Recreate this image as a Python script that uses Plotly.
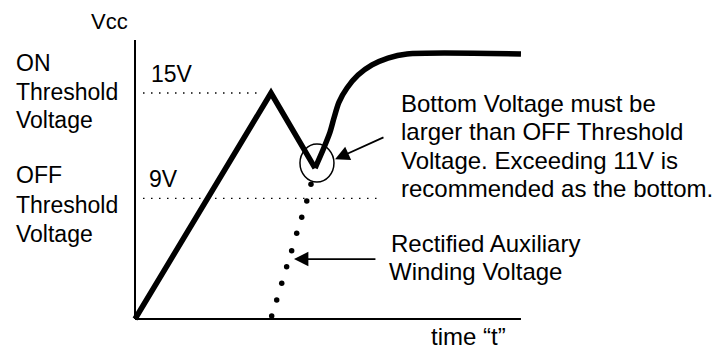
import plotly.graph_objects as go

# ---------------- data (schematic units: time t, voltage level v) ----------------
rise_t = [0.0, 10.0, 13.24]          # start-up ramp, peak, bottom
rise_v = [0.0, 15.0, 10.02]

recover_t = [13.24, 13.82, 14.34, 14.63, 15.0, 15.59, 16.40, 17.43, 18.60, 20.0, 28.38]
recover_v = [10.02, 11.22, 12.41, 13.34, 14.40, 15.33, 16.19, 16.86, 17.32, 17.59, 17.59]

aux_t = [10.05, 10.42, 10.79, 11.15, 11.52, 11.89, 12.26, 12.63, 12.94]
aux_v = [0.20, 1.26, 2.37, 3.47, 4.53, 5.69, 6.75, 7.83, 8.94]

level_names = ["ON", "OFF"]
level_values = [15.0, 8.01]          # drawn heights of the threshold guides
level_ends = [9.34, 17.8]            # where each dotted guide stops
level_labels = ["15V", "9V"]

axis_t_end = 28.38
axis_v_end = 18.52

W, H = 726, 349
PX_T = 13.6       # px per t unit
PX_V = 15.067     # px per v unit
X0, Y0 = 135, 319 # origin pixel

FONT = "Liberation Sans, Arial, sans-serif"

def px(x):
    return x / W

def py(y):
    return 1 - y / H

fig = go.Figure()

# solid Vcc curve
fig.add_trace(go.Scatter(x=rise_t, y=rise_v, mode="lines",
                         line=dict(color="black", width=5.5), hoverinfo="skip"))
fig.add_trace(go.Scatter(x=recover_t, y=recover_v, mode="lines",
                         line=dict(color="black", width=5.5, shape="spline", smoothing=0.8),
                         hoverinfo="skip"))
# rectified auxiliary winding voltage (dots)
fig.add_trace(go.Scatter(x=aux_t, y=aux_v, mode="markers",
                         marker=dict(color="black", size=5.5), hoverinfo="skip"))

shapes = []
# axes
shapes.append(dict(type="line", xref="x", yref="y", x0=0, y0=0, x1=axis_t_end, y1=0,
                   line=dict(color="black", width=2)))
shapes.append(dict(type="line", xref="x", yref="y", x0=0, y0=0, x1=0, y1=axis_v_end,
                   line=dict(color="black", width=2)))
# threshold guides
for lv, le in zip(level_values, level_ends):
    shapes.append(dict(type="line", xref="x", yref="y", x0=0.59, y0=lv, x1=le, y1=lv,
                       line=dict(color="black", width=1.3, dash="1.5px,6.5px")))
# circle around the bottom
shapes.append(dict(type="circle", xref="x", yref="y",
                   x0=13.38 - 1.25, x1=13.38 + 1.25, y0=10.35 - 1.26, y1=10.35 + 1.26,
                   line=dict(color="black", width=1.5)))

annotations = []

def text(s, x, baseline, size=23, anchor="left"):
    annotations.append(dict(text=s, xref="paper", yref="paper",
                            x=px(x), y=py(baseline - 0.34 * size),
                            xanchor=anchor, yanchor="middle", showarrow=False,
                            borderpad=0,
                            font=dict(family=FONT, size=size, color="black")))

text("Vcc", 90, 29, size=22)
for i, line in enumerate(["ON", "Threshold", "Voltage"]):
    text(line, 15, 70.7 + 28.8 * i)
for i, line in enumerate(["OFF", "Threshold", "Voltage"]):
    text(line, 15, 183.3 + 29.2 * i)
text(level_labels[0], 150, 81.7)
text(level_labels[1], 148, 186.7)
for i, line in enumerate(["Bottom Voltage must be", "larger than OFF Threshold",
                          "Voltage. Exceeding 11V is", "recommended as the bottom."]):
    text(line, 400, 111.7 + 28.3 * i, size=24)
text("Rectified Auxiliary", 390, 251.7, size=24)
text("Winding Voltage", 388, 280, size=24)
text("time \u201ct\u201d", 430, 345, size=24)

# arrows
annotations.append(dict(x=14.71, y=10.60, ax=18.38, ay=12.10, xref="x", yref="y",
                        axref="x", ayref="y", text="", showarrow=True,
                        arrowhead=2, arrowsize=1.6, arrowwidth=1.8, arrowcolor="black"))
annotations.append(dict(x=11.69, y=3.98, ax=17.79, ay=3.98, xref="x", yref="y",
                        axref="x", ayref="y", text="", showarrow=True,
                        arrowhead=2, arrowsize=1.6, arrowwidth=1.8, arrowcolor="black"))

fig.update_layout(
    width=W, height=H,
    margin=dict(l=0, r=0, t=0, b=0),
    paper_bgcolor="white", plot_bgcolor="white",
    showlegend=False,
    shapes=shapes, annotations=annotations,
    xaxis=dict(range=[-X0 / PX_T, (W - X0) / PX_T], visible=False, fixedrange=True),
    yaxis=dict(range=[(Y0 - H) / PX_V, Y0 / PX_V], visible=False, fixedrange=True),
)

fig.write_html("out.html", config={"displayModeBar": False},
               post_script="document.body.style.margin='0px';document.body.style.overflow='hidden';")
